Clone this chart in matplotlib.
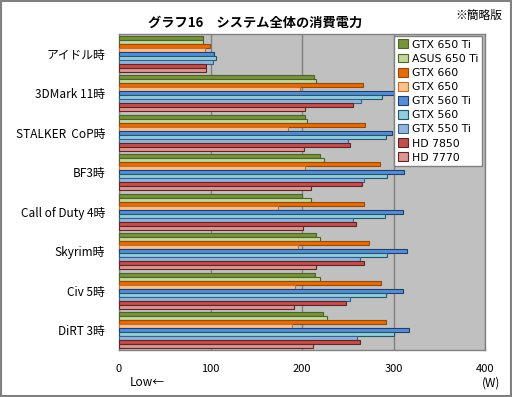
import matplotlib.pyplot as plt
from matplotlib.patches import Rectangle

plt.rcParams['font.family'] = ['Noto Sans CJK JP', 'DejaVu Sans']

categories = ['アイドル時', '3DMark 11時', 'STALKER  CoP時', 'BF3時',
              'Call of Duty 4時', 'Skyrim時', 'Civ 5時', 'DiRT 3時']
series_names = ['GTX 650 Ti', 'ASUS 650 Ti', 'GTX 660', 'GTX 650', 'GTX 560 Ti',
                'GTX 560', 'GTX 550 Ti', 'HD 7850', 'HD 7770']

gtx650ti = [92, 213, 203, 220, 200, 215, 214, 223]
asus650ti = [92, 215, 205, 224, 210, 220, 220, 227]
gtx660 = [99, 267, 269, 285, 268, 273, 286, 292]
gtx650 = [94, 198, 185, 203, 174, 196, 192, 189]
gtx560ti = [104, 300, 298, 312, 310, 315, 310, 317]
gtx560 = [106, 287, 292, 293, 291, 293, 292, 301]
gtx550ti = [103, 265, 250, 268, 256, 263, 252, 260]
hd7850 = [95, 256, 252, 266, 259, 268, 248, 263]
hd7770 = [95, 203, 202, 210, 201, 215, 191, 212]

values = [gtx650ti, asus650ti, gtx660, gtx650, gtx560ti,
          gtx560, gtx550ti, hd7850, hd7770]

fills = ['#77933C', '#C3D69B', '#E46C0A', '#FAC090', '#558ED5',
         '#93CDDD', '#95B3D7', '#C0504D', '#D99694']
edges = ['#4F6228', '#4F6228', '#984807', '#C0702A', '#1F3F6E',
         '#215968', '#376092', '#632523', '#632523']

fig = plt.figure(figsize=(5.12, 3.97), dpi=100)
ax = fig.add_axes([119 / 512, 1 - 350 / 397, 366 / 512, 316 / 397])
ax.set_facecolor('#C0C0C0')

bh = 0.1
for j, (name, vals) in enumerate(zip(series_names, values)):
    ys = [i + (j - 4) * bh for i in range(len(categories))]
    ax.barh(ys, vals, height=bh, color=fills[j], edgecolor=edges[j],
            linewidth=0.8, label=name, zorder=3)

ax.set_xlim(0, 400)
ax.set_ylim(len(categories) - 0.5, -0.5)
ax.set_xticks([0, 100, 200, 300, 400])
ax.set_yticks(range(len(categories)))
ax.set_yticklabels(categories, fontsize=8.5)
ax.tick_params(axis='y', length=0, pad=10)
ax.tick_params(axis='x', length=0, pad=10, labelsize=8)
ax.grid(axis='x', color='#808080', linewidth=1, zorder=1)
for s in ax.spines.values():
    s.set_color('#808080')
    s.set_linewidth(1)

leg = ax.legend(loc='upper right', bbox_to_anchor=(0.993, 0.995), borderaxespad=0,
                prop={'family': 'DejaVu Sans', 'size': 7.8},
                frameon=True, fancybox=False, framealpha=1,
                handlelength=0.9, handleheight=0.9, handletextpad=0.4,
                labelspacing=0.36, borderpad=0.35)
leg.get_frame().set_edgecolor('#808080')
leg.get_frame().set_linewidth(1)
leg.set_zorder(5)

fig.text(255 / 512, 1 - 23 / 397, 'グラフ16\u3000システム全体の消費電力',
         ha='center', va='center', fontsize=9.5, fontweight='bold')
fig.text(502 / 512, 1 - 15 / 397, '※簡略版', ha='right', va='center', fontsize=8.5)
fig.text(130 / 512, 1 - 383 / 397, 'Low←', ha='left', va='center', fontsize=8.5)
fig.text(500 / 512, 1 - 383 / 397, '(W)', ha='right', va='center', fontsize=8.5)

fig.patches.append(Rectangle((0.002, 0.002), 0.996, 0.996, transform=fig.transFigure,
                             fill=False, edgecolor='#808080', linewidth=1.5))

fig.savefig('out.png', dpi=100)
